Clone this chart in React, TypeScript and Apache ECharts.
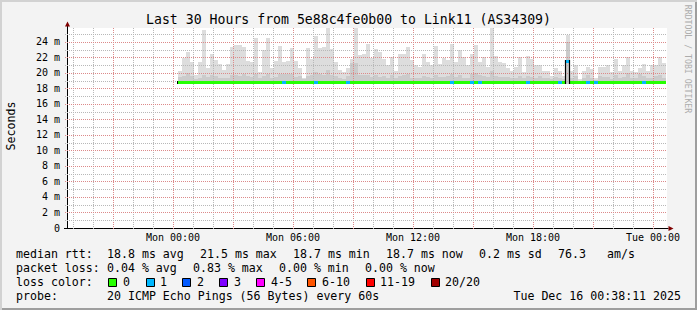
import React, { useEffect, useRef } from 'react';
import * as echarts from 'echarts';

const FONT_FAMILY = '"DejaVu Sans Mono", "Liberation Mono", monospace';

const chartTitle = 'Last 30 Hours from 5e88c4fe0b00 to Link11 (AS34309)';
const yAxisTitle = 'Seconds';
const watermark = 'RRDTOOL / TOBI OETIKER';

// x axis: hours relative to Mon 00:00
const axisStartHour = -5.3;
const axisEndHour = 24.7;
const tickHours = [0, 6, 12, 18, 24];
const tickLabels = ['Mon 00:00', 'Mon 06:00', 'Mon 12:00', 'Mon 18:00', 'Tue 00:00'];

// y axis in ms
const yMin = 0;
const yMax = 25.8;
const yStep = 2;

// measurement columns: 12-minute steps, first one at Mon 00:15
const firstStepHour = 0.25;
const stepHours = 0.2;

const smokeMax = [
  20.3, 21.9, 22.7, 21.4, 19.7, 21.4, 25.5, 20.6, 22.5, 21.7,
  21.1, 20.4, 21.1, 23.3, 23.6, 23.6, 23.3, 21.6, 21.4, 24.5,
  20.1, 23.0, 24.5, 20.6, 21.6, 23.5, 21.4, 21.5, 23.2, 21.6,
  20.7, 19.4, 23.2, 21.8, 24.8, 23.2, 23.3, 25.8, 23.1, 21.4,
  20.4, 20.1, 20.6, 21.8, 25.9, 22.3, 22.4, 23.8, 21.9, 23.1,
  22.7, 21.8, 21.0, 22.0, 20.3, 22.4, 22.5, 23.3, 21.7, 21.0,
  20.8, 22.5, 21.4, 21.0, 23.5, 21.2, 21.9, 21.7, 23.8, 21.4,
  22.9, 22.0, 21.0, 22.5, 23.6, 21.4, 22.0, 20.8, 25.9, 22.2,
  21.4, 21.3, 20.6, 20.2, 20.8, 22.0, 20.1, 22.2, 21.8, 21.0,
  21.0, 20.2, 20.2, 19.6, 20.7, 20.3, 19.6, 24.9, 20.3, 21.0,
  19.2, 20.3, 20.8, 20.5, 19.4, 20.8, 20.8, 21.0, 20.1, 21.8,
  20.2, 21.0, 22.0, 20.2, 20.1, 20.7, 21.1, 20.3, 21.0, 21.0,
  22.0, 21.3,
];

const smokeMid = [
  19.5, 19.6, 20.0, 19.6, 19.2, 19.4, 19.8, 19.5, 19.8, 19.6,
  19.4, 19.3, 19.4, 19.8, 19.7, 19.6, 19.9, 19.6, 19.5, 19.9,
  19.3, 19.6, 19.9, 19.4, 19.5, 19.9, 19.9, 19.9, 19.9, 19.5,
  19.6, 19.2, 19.6, 19.7, 20.1, 19.9, 19.7, 20.4, 19.7, 19.6,
  19.3, 19.2, 19.6, 21.3, 21.3, 19.8, 19.7, 19.8, 19.5, 19.7,
  19.5, 19.6, 19.4, 19.8, 19.3, 19.6, 19.8, 19.9, 19.4, 19.3,
  19.3, 19.6, 19.5, 19.4, 19.8, 19.5, 19.5, 19.6, 19.9, 19.5,
  19.7, 19.4, 19.3, 19.9, 20.0, 19.7, 19.6, 19.5, 20.2, 19.6,
  19.5, 19.5, 19.5, 19.3, 19.4, 19.6, 19.3, 19.6, 19.5, 19.4,
  19.6, 19.3, 19.3, 19.2, 19.5, 19.4, 19.2, 24.0, 19.3, 19.6,
  19.0, 19.4, 19.8, 19.3, 19.1, 19.6, 19.5, 19.5, 19.2, 19.8,
  19.3, 19.5, 20.0, 19.3, 19.4, 19.9, 19.6, 19.3, 19.4, 19.6,
  19.7, 19.4,
];

const smokeFloor = 18.6;

const medianRtt = [
  18.8, 18.8, 18.8, 18.8, 18.8, 18.8, 18.8, 18.8, 18.8, 18.8,
  18.8, 18.8, 18.8, 18.8, 18.8, 18.8, 18.8, 18.8, 18.8, 18.8,
  18.8, 18.8, 18.8, 18.8, 18.8, 18.8, 18.8, 18.8, 18.8, 18.8,
  18.8, 18.8, 18.8, 18.8, 18.8, 18.8, 18.8, 18.8, 18.8, 18.8,
  18.8, 18.8, 18.8, 18.8, 18.8, 18.8, 18.8, 18.8, 18.8, 18.8,
  18.8, 18.8, 18.8, 18.8, 18.8, 18.8, 18.8, 18.8, 18.8, 18.8,
  18.8, 18.8, 18.8, 18.8, 18.8, 18.8, 18.8, 18.8, 18.8, 18.8,
  18.8, 18.8, 18.8, 18.8, 18.8, 18.8, 18.8, 18.8, 18.8, 18.8,
  18.8, 18.8, 18.8, 18.8, 18.8, 18.8, 18.8, 18.8, 18.8, 18.8,
  18.8, 18.8, 18.8, 18.8, 18.8, 18.8, 18.8, 21.5, 18.8, 18.8,
  18.8, 18.8, 18.8, 18.8, 18.8, 18.8, 18.8, 18.8, 18.8, 18.8,
  18.8, 18.8, 18.8, 18.8, 18.8, 18.8, 18.8, 18.8, 18.8, 18.8,
  18.8, 18.8,
];

const lossCount = [
  0, 0, 0, 0, 0, 0, 0, 0, 0, 0,
  0, 0, 0, 0, 0, 0, 0, 0, 0, 0,
  0, 0, 0, 0, 0, 0, 1, 0, 0, 0,
  0, 0, 0, 0, 1, 0, 0, 0, 0, 0,
  0, 0, 1, 0, 0, 0, 0, 0, 0, 0,
  0, 0, 0, 0, 0, 0, 0, 0, 0, 0,
  0, 0, 0, 0, 0, 0, 0, 0, 1, 0,
  0, 0, 0, 1, 0, 1, 0, 0, 0, 0,
  0, 0, 0, 0, 0, 0, 0, 1, 0, 0,
  0, 0, 0, 0, 0, 1, 0, 1, 0, 0,
  0, 0, 1, 0, 1, 0, 0, 0, 0, 0,
  0, 0, 0, 0, 0, 0, 1, 0, 0, 0,
  0, 0,
];

const lossLegendLabels = ['0', '1', '2', '3', '4-5', '6-10', '11-19', '20/20'];
const lossLegendColors = ['#26ff00', '#00b8ff', '#0059ff', '#7e00ff', '#ff00ff', '#ff5500', '#ff0000', '#a10000'];

const rttLabel = 'median rtt:';
const rttStats = ['18.8 ms avg', '21.5 ms max', '18.7 ms min', '18.7 ms now', '0.2 ms sd', '76.3', 'am/s'];
const lossLabel = 'packet loss:';
const lossStats = ['0.04 % avg', '0.83 % max', '0.00 % min', '0.00 % now'];
const lossColorLabel = 'loss color:';
const probeLabel = 'probe:';
const probeText = '20 ICMP Echo Pings (56 Bytes) every 60s';
const timestamp = 'Tue Dec 16 00:38:11 2025';

// layout (pixels)
const rttStatX = [107, 200, 293, 386, 479, 558, 607];
const lossStatX = [107, 193, 279, 365];
const lossBoxX = [108, 146, 182, 219, 256, 307, 366, 431];
const lossTextX = [123, 160, 197, 234, 271, 322, 380, 445];

const GRID_GREY = '#b8b8b8';
const GRID_RED = '#dc8a8a';
const ARROW = '#7f0000';

function lossColor(n: number): string {
  if (n <= 0) return lossLegendColors[0];
  if (n === 1) return lossLegendColors[1];
  if (n === 2) return lossLegendColors[2];
  if (n === 3) return lossLegendColors[3];
  if (n <= 5) return lossLegendColors[4];
  if (n <= 10) return lossLegendColors[5];
  if (n <= 19) return lossLegendColors[6];
  return lossLegendColors[7];
}

function buildOption() {
  const stepStart = smokeMax.map((_, i) => firstStepHour + i * stepHours);
  const smokeData = smokeMax.map((hi, i) => [stepStart[i], hi, smokeMid[i]]);
  const medianData = medianRtt.map((m, i) => [stepStart[i], m, lossCount[i]]);

  const gridHours: number[] = [];
  for (let h = Math.ceil(axisStartHour); h <= Math.floor(axisEndHour); h++) gridHours.push(h);
  const gridValues: number[] = [];
  for (let v = 1; v < yMax; v++) gridValues.push(v);

  const font = (size: number) => `${size}px ${FONT_FAMILY}`;
  const txt = (text: string, x: number, y: number, extra: any = {}) => ({
    type: 'text',
    x,
    y,
    silent: true,
    style: { text, fill: '#000', font: font(11.6), verticalAlign: 'middle', align: 'left', ...extra },
  });

  const graphics: any[] = [];
  graphics.push(txt(chartTitle, 348.5, 19.5, { font: font(13.2), align: 'center' }));
  graphics.push({
    type: 'text', x: 11, y: 126, rotation: Math.PI / 2, silent: true,
    style: { text: yAxisTitle, fill: '#000', font: font(11.6), align: 'center', verticalAlign: 'middle' },
  });
  graphics.push({
    type: 'text', x: 687.5, y: 59, rotation: -Math.PI / 2, silent: true,
    style: { text: watermark, fill: '#acacac', font: font(8.2), align: 'center', verticalAlign: 'middle' },
  });
  // axis arrows
  graphics.push({ type: 'line', silent: true, shape: { x1: 67.5, y1: 28, x2: 67.5, y2: 26 }, style: { stroke: '#000', lineWidth: 1 } });
  graphics.push({ type: 'polygon', silent: true, shape: { points: [[67.5, 21.5], [65, 26.5], [70, 26.5]] }, style: { fill: ARROW } });
  graphics.push({ type: 'line', silent: true, shape: { x1: 667, y1: 228.5, x2: 668.5, y2: 228.5 }, style: { stroke: '#000', lineWidth: 1 } });
  graphics.push({ type: 'polygon', silent: true, shape: { points: [[673.5, 228.5], [668.5, 226], [668.5, 231]] }, style: { fill: ARROW } });
  graphics.push({ type: 'line', silent: true, shape: { x1: 64, y1: 228.5, x2: 67, y2: 228.5 }, style: { stroke: '#000', lineWidth: 1 } });

  // legend rows
  graphics.push(txt(rttLabel, 16, 254));
  rttStats.forEach((s, i) => graphics.push(txt(s, rttStatX[i], 254)));
  graphics.push(txt(lossLabel, 16, 268));
  lossStats.forEach((s, i) => graphics.push(txt(s, lossStatX[i], 268)));
  graphics.push(txt(lossColorLabel, 16, 282));
  lossLegendLabels.forEach((s, i) => {
    graphics.push({
      type: 'rect', silent: true,
      shape: { x: lossBoxX[i] + 0.5, y: 278.5, width: 8, height: 8 },
      style: { fill: lossLegendColors[i], stroke: '#000', lineWidth: 1 },
    });
    graphics.push(txt(s, lossTextX[i], 282));
  });
  graphics.push(txt(probeLabel, 16, 296));
  graphics.push(txt(probeText, 107, 296));
  graphics.push(txt(timestamp, 681, 296, { align: 'right' }));

  return {
    animation: false,
    backgroundColor: 'transparent',
    textStyle: { fontFamily: FONT_FAMILY },
    grid: { left: 67, top: 28, width: 600, height: 200, containLabel: false, show: true, backgroundColor: '#ffffff', borderWidth: 0 },
    xAxis: {
      type: 'value',
      min: axisStartHour,
      max: axisEndHour,
      splitLine: { show: false },
      axisTick: { show: false },
      axisLine: { show: true, onZero: false, lineStyle: { color: '#000', width: 1 } },
      axisLabel: {
        customValues: tickHours,
        margin: 4,
        fontSize: 10,
        color: '#000',
        fontFamily: FONT_FAMILY,
        formatter: (v: number) => {
          const i = tickHours.indexOf(Math.round(v));
          return i >= 0 ? tickLabels[i] : '';
        },
      },
    },
    yAxis: {
      type: 'value',
      min: yMin,
      max: yMax,
      interval: yStep,
      splitLine: { show: false },
      axisTick: { show: false },
      axisLine: { show: true, onZero: false, lineStyle: { color: '#000', width: 1 } },
      axisLabel: {
        margin: 7,
        fontSize: 10,
        color: '#000',
        fontFamily: FONT_FAMILY,
        showMaxLabel: false,
        formatter: (v: number) => (Math.abs(v % 2) > 1e-6 ? '' : v === 0 ? '0' : `${v} m`),
      },
    },
    graphic: { elements: graphics },
    series: [
      {
        type: 'custom',
        name: 'smoke',
        z: 2,
        silent: true,
        clip: true,
        encode: { x: 0, y: 1 },
        data: smokeData,
        renderItem: (params: any, api: any) => {
          const t = api.value(0);
          const hi = api.value(1);
          const mid = api.value(2);
          const a = api.coord([t, smokeFloor]);
          const b = api.coord([t + stepHours, hi]);
          const m = api.coord([t + stepHours, mid]);
          const x0 = Math.round(a[0]);
          const x1 = Math.round(b[0]);
          const yb = Math.round(a[1]);
          const yh = Math.round(b[1]);
          const ym = Math.round(m[1]);
          return {
            type: 'group',
            children: [
              { type: 'rect', shape: { x: x0, y: yh, width: x1 - x0, height: yb - yh }, style: { fill: '#dddddd' } },
              { type: 'rect', shape: { x: x0, y: ym, width: x1 - x0, height: yb - ym }, style: { fill: '#cbcbcb' } },
            ],
          };
        },
      },
      {
        type: 'custom',
        name: 'gridX',
        z: 3,
        silent: true,
        clip: false,
        data: gridHours.map((h) => [h, 0]),
        renderItem: (params: any, api: any) => {
          const h = api.value(0);
          const cs = params.coordSys;
          const x = Math.round(api.coord([h, 0])[0]) + 0.5;
          const major = Math.abs(h % 3) < 1e-9;
          return {
            type: 'line',
            shape: { x1: x, y1: cs.y, x2: x, y2: cs.y + cs.height + 2 },
            style: { stroke: major ? GRID_RED : GRID_GREY, lineWidth: 1, lineDash: [1, 1] },
          };
        },
      },
      {
        type: 'custom',
        name: 'gridY',
        z: 3,
        silent: true,
        clip: false,
        data: gridValues.map((v) => [axisStartHour, v]),
        renderItem: (params: any, api: any) => {
          const v = api.value(1);
          const cs = params.coordSys;
          const y = Math.round(api.coord([axisStartHour, v])[1]) + 0.5;
          const major = Math.abs(v % 2) < 1e-9;
          return {
            type: 'line',
            shape: { x1: cs.x - 2, y1: y, x2: cs.x + cs.width, y2: y },
            style: { stroke: major ? GRID_RED : GRID_GREY, lineWidth: 1, lineDash: [1, 1] },
          };
        },
      },
      {
        type: 'custom',
        name: 'median',
        z: 4,
        silent: true,
        clip: true,
        encode: { x: 0, y: 1 },
        data: medianData,
        renderItem: (params: any, api: any) => {
          const i = params.dataIndex;
          const t = api.value(0);
          const med = api.value(1);
          const loss = api.value(2);
          const a = api.coord([t, med]);
          const b = api.coord([t + stepHours, med]);
          const x0 = Math.round(a[0]);
          const x1 = Math.round(b[0]);
          const y = Math.round(a[1] - 1.5);
          const children: any[] = [
            { type: 'rect', shape: { x: x0, y, width: x1 - x0, height: 3 }, style: { fill: lossColor(loss) } },
          ];
          if (i === 0) {
            children.push({ type: 'line', shape: { x1: x0 - 0.5, y1: y, x2: x0 - 0.5, y2: y + 3 }, style: { stroke: '#000', lineWidth: 1 } });
          } else if (medianRtt[i - 1] !== med) {
            const p = api.coord([t, medianRtt[i - 1]]);
            const lo = Math.min(p[1], a[1]);
            const hi = Math.max(p[1], a[1]);
            const xl = x0 - 0.5;
            children.push({ type: 'line', shape: { x1: xl, y1: Math.round(lo) - 1, x2: xl, y2: Math.round(hi) + 2 }, style: { stroke: '#000', lineWidth: 1.2 } });
          }
          return { type: 'group', children };
        },
      },
    ],
  };
}

export default function App() {
  const ref = useRef<HTMLDivElement>(null);
  useEffect(() => {
    document.body.style.margin = '0';
    const chart = echarts.init(ref.current as HTMLDivElement, null, { renderer: 'svg', width: 697, height: 310 });
    chart.setOption(buildOption() as any);
    return () => chart.dispose();
  }, []);
  return (
    <div
      ref={ref}
      style={{
        width: 697,
        height: 310,
        background: '#f3f3f3',
        boxShadow: 'inset 2px 2px 0 #d2d2d2, inset -2px -2px 0 #9e9e9e',
      }}
    />
  );
}
